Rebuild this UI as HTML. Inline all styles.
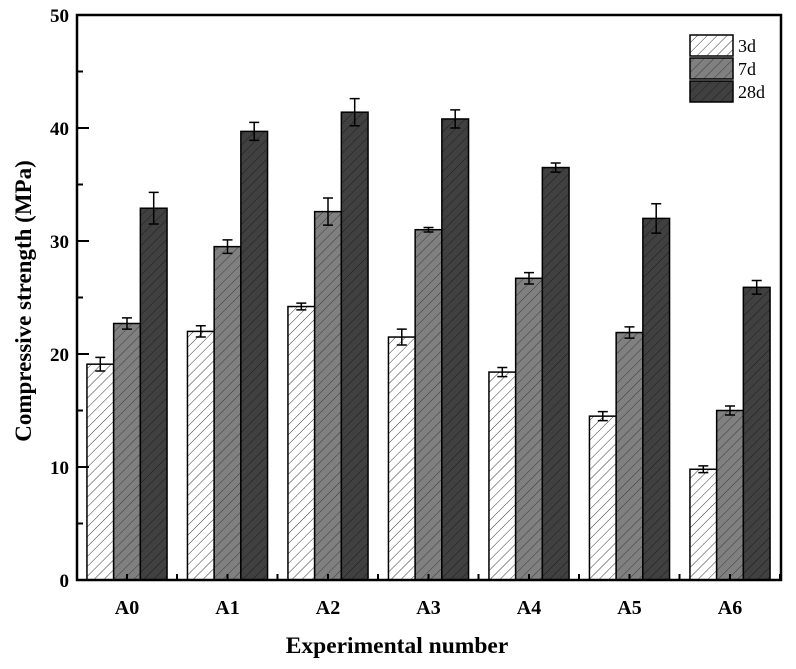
<!DOCTYPE html>
<html><head><meta charset="utf-8"><style>
body{margin:0;background:#fff}
svg text{font-family:"Liberation Serif",serif}
</style></head><body>
<svg id="chart" width="796" height="664" xmlns="http://www.w3.org/2000/svg">
<defs>
<pattern id="h3" patternUnits="userSpaceOnUse" width="7" height="7" patternTransform="rotate(45)"><rect width="7" height="7" fill="#fff"/><line x1="0" y1="0" x2="0" y2="7" stroke="#222" stroke-width="0.9"/></pattern>
<pattern id="h7" patternUnits="userSpaceOnUse" width="7" height="7" patternTransform="rotate(45)"><rect width="7" height="7" fill="#808080"/><line x1="0" y1="0" x2="0" y2="7" stroke="#333" stroke-width="0.9"/></pattern>
<pattern id="h28" patternUnits="userSpaceOnUse" width="7" height="7" patternTransform="rotate(45)"><rect width="7" height="7" fill="#404040"/><line x1="0" y1="0" x2="0" y2="7" stroke="#1a1a1a" stroke-width="0.9"/></pattern>
</defs>
<g id="bars"></g>
<g id="axes"></g>
<g>
<rect x="690" y="35" width="43" height="21" fill="url(#h3)" stroke="#000" stroke-width="1.5"/>
<text x="738" y="52" font-size="18">3d</text>
<rect x="690" y="58" width="43" height="21" fill="url(#h7)" stroke="#000" stroke-width="1.5"/>
<text x="738" y="75" font-size="18">7d</text>
<rect x="690" y="81" width="43" height="21" fill="url(#h28)" stroke="#000" stroke-width="1.5"/>
<text x="738" y="98" font-size="18">28d</text>
</g>
<text x="397" y="653" font-size="23.5" font-weight="bold" text-anchor="middle">Experimental number</text>
<text transform="translate(31,301) rotate(-90)" font-size="23" font-weight="bold" text-anchor="middle">Compressive strength (MPa)</text>
</svg>
<script>
const categories=["A0","A1","A2","A3","A4","A5","A6"];
const d3v=[19.1,22.0,24.2,21.5,18.4,14.5,9.8];
const d3e=[0.6,0.5,0.3,0.7,0.4,0.4,0.3];
const d7v=[22.7,29.5,32.6,31.0,26.7,21.9,15.0];
const d7e=[0.5,0.6,1.2,0.2,0.5,0.5,0.4];
const d28v=[32.9,39.7,41.4,40.8,36.5,32.0,25.9];
const d28e=[1.4,0.8,1.2,0.8,0.4,1.3,0.6];
const yTicks=[0,10,20,30,40,50];
const NS="http://www.w3.org/2000/svg";
const X0=77,X1=781,Y0=580,Y1=15;
function y(v){return Y0-(v/50)*(Y0-Y1);}
function xc(i){return 127+i*100.5;}
const bw=26.7;
function mk(t,a,p){const e=document.createElementNS(NS,t);for(const k in a)e.setAttribute(k,a[k]);p.appendChild(e);return e;}
const bars=document.getElementById('bars'),axes=document.getElementById('axes');
const series=[[d3v,d3e,'url(#h3)','3d'],[d7v,d7e,'url(#h7)','7d'],[d28v,d28e,'url(#h28)','28d']];
series.forEach((s,si)=>{
 categories.forEach((c,i)=>{
  const x=xc(i)-1.5*bw+si*bw;
  const r=mk('rect',{x:x,y:y(s[0][i]),width:bw,height:Y0-y(s[0][i]),fill:s[2],stroke:'#000','stroke-width':1.5},bars);
  
  
  const cx=x+bw/2,yt=y(s[0][i]+s[1][i]),yb=y(s[0][i]-s[1][i]);
  const g=mk('path',{d:`M${cx},${yt}V${yb}M${cx-5},${yt}H${cx+5}M${cx-5},${yb}H${cx+5}`,stroke:'#000','stroke-width':1.5,fill:'none'},bars);
  
  
 });
});
const f=mk('rect',{x:X0,y:Y1,width:X1-X0,height:Y0-Y1,fill:'none',stroke:'#000','stroke-width':2.5},axes);


yTicks.forEach(v=>{
 mk('line',{x1:X0,x2:X0+12,y1:y(v),y2:y(v),stroke:'#000','stroke-width':2},axes);
 if(v<50) mk('line',{x1:X0,x2:X0+6,y1:y(v+5),y2:y(v+5),stroke:'#000','stroke-width':2},axes);
 const t=mk('text',{x:69,y:y(v)+7,'font-size':19,'font-weight':'bold','text-anchor':'end'},axes);
 t.textContent=v;
 
 
});
categories.forEach((c,i)=>{
 mk('line',{x1:xc(i),x2:xc(i),y1:Y0,y2:Y0-6,stroke:'#000','stroke-width':2},axes);
 mk('line',{x1:xc(i)+50,x2:xc(i)+50,y1:Y0,y2:Y0-6,stroke:'#000','stroke-width':2},axes);
 const t=mk('text',{x:xc(i),y:614,'font-size':20,'font-weight':'bold','text-anchor':'middle'},axes);
 t.textContent=c;
 
 
});
</script>
</body></html>
